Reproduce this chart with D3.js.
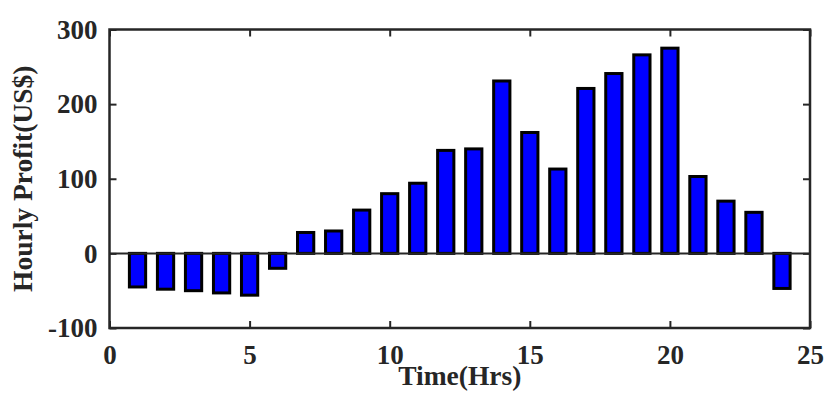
<!DOCTYPE html>
<html>
<head>
<meta charset="utf-8">
<script src="https://cdn.jsdelivr.net/npm/d3@7"></script>
<style>
  body { margin: 0; background: #fff; }
  text { font-family: "Liberation Serif", "Times New Roman", serif; font-weight: bold; fill: #262626; }
</style>
</head>
<body>
<div id="chart"></div>
<script>
// hours and hourly profit (US$)
const hours = d3.range(1, 25);
const profit = [-45, -48, -50, -53, -56, -20, 28, 30, 58, 80, 94, 138,
                140, 231, 162, 113, 221, 241, 266, 275, 103, 70, 55, -47];
const xTicks = [0, 5, 10, 15, 20, 25];
const yTicks = [-100, 0, 100, 200, 300];

let margin = {top: 29.5, right: 20, bottom: 67, left: 109.5},
    width = 830 - margin.left - margin.right,
    height = 395 - margin.top - margin.bottom;

let svg = d3.select("#chart")
    .append("svg")
        .attr("width", 830)
        .attr("height", 395)
    .append("g")
        .attr("transform", `translate(${margin.left},${margin.top})`);

let x = d3.scaleLinear().domain([0, 25]).range([0, width]);
let y = d3.scaleLinear().domain([-100, 300]).range([height, 0]);

const barW = 0.58; // fraction of one hour
const axisColor = "#262626";
const fmt = d => String(d); // plain hyphen for negatives

// bars
svg.append("g")
    .selectAll("rect")
    .data(hours)
    .enter()
    .append("rect")
        .attr("x", d => x(d - barW / 2))
        .attr("width", x(barW) - x(0))
        .attr("y", (d, i) => y(Math.max(0, profit[i])))
        .attr("height", (d, i) => Math.abs(y(profit[i]) - y(0)))
        .attr("fill", "#0000ff")
        .attr("stroke", "#000")
        .attr("stroke-width", 3);

// zero baseline
svg.append("line")
    .attr("x1", 0).attr("x2", width)
    .attr("y1", y(0)).attr("y2", y(0))
    .attr("stroke", axisColor)
    .attr("stroke-width", 2);

// axes with inward ticks on all four sides
let tickLen = 7;
let styleAxis = g => {
    g.select(".domain").remove();
    g.selectAll(".tick line").attr("stroke", axisColor).attr("stroke-width", 2);
    g.selectAll(".tick text").style("font-size", "27px").attr("fill", axisColor);
};

svg.append("g")
    .attr("transform", `translate(0,${height})`)
    .call(d3.axisBottom(x).tickValues(xTicks).tickFormat(fmt)
        .tickSizeInner(-tickLen).tickSizeOuter(0).tickPadding(17))
    .call(styleAxis)
    .call(g => g.selectAll(".tick text").attr("dy", "0.71em"));

svg.append("g")
    .call(d3.axisTop(x).tickValues(xTicks).tickFormat("")
        .tickSizeInner(-tickLen).tickSizeOuter(0))
    .call(styleAxis);

svg.append("g")
    .call(d3.axisLeft(y).tickValues(yTicks).tickFormat(fmt)
        .tickSizeInner(-tickLen).tickSizeOuter(0).tickPadding(12))
    .call(styleAxis);

svg.append("g")
    .attr("transform", `translate(${width},0)`)
    .call(d3.axisRight(y).tickValues(yTicks).tickFormat("")
        .tickSizeInner(-tickLen).tickSizeOuter(0))
    .call(styleAxis);

// box
svg.append("rect")
    .attr("x", 0).attr("y", 0)
    .attr("width", width).attr("height", height)
    .attr("fill", "none")
    .attr("stroke", axisColor)
    .attr("stroke-width", 2.5);

// axis labels
svg.append("text")
    .attr("x", width / 2)
    .attr("y", height + 57)
    .attr("text-anchor", "middle")
    .style("font-size", "27.5px")
    .text("Time(Hrs)");

svg.append("text")
    .attr("transform", `translate(${32 - margin.left},${height / 2}) rotate(-90)`)
    .attr("text-anchor", "middle")
    .style("font-size", "27.5px")
    .text("Hourly Profit(US$)");
</script>
</body>
</html>
